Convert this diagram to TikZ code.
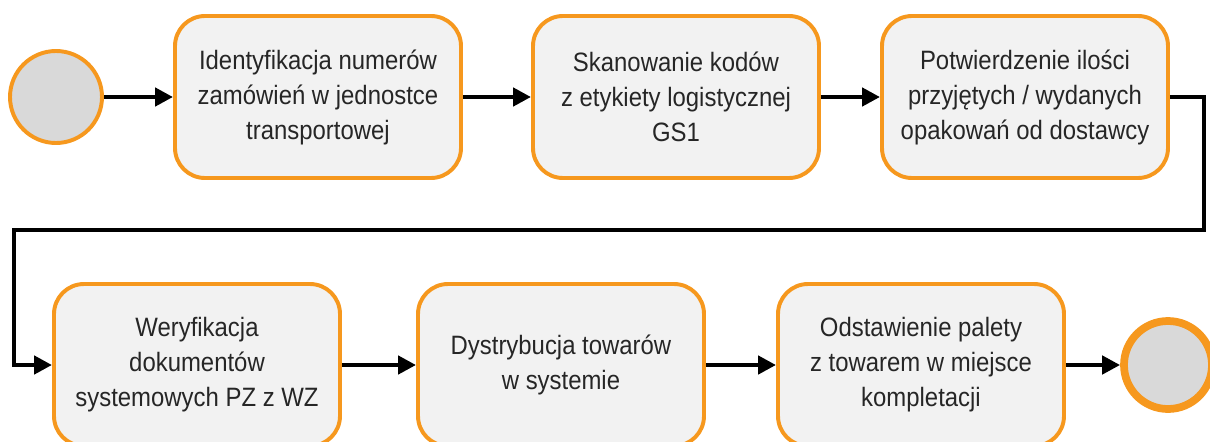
\documentclass[tikz,border=0pt]{standalone}
\usepackage{fontspec}
\setmainfont[FakeStretch=0.9]{Liberation Sans}
\usepackage{xcolor}
\usetikzlibrary{arrows.meta,shapes}

\definecolor{boxorange}{RGB}{246,152,30}
\definecolor{boxfill}{RGB}{242,242,242}
\definecolor{dotfill}{RGB}{217,217,217}

\begin{document}
\begin{tikzpicture}[>={Triangle[length=0.45cm,width=0.45cm]}]
\tikzset{
  task/.style={draw=boxorange,line width=2.8pt,fill=boxfill,rounded corners=0.75cm,
    minimum width=7.15cm,minimum height=4.05cm,align=center,
    font=\fontsize{18.9}{24.9}\selectfont,text=black!85},
  event/.style={circle,draw=boxorange,line width=2.8pt,fill=dotfill,minimum size=2.3cm},
  flow/.style={line width=3.4pt,->}
}
\useasboundingbox (0,0) rectangle (30.25,-11.025);
% top row
\node[event] (start) at (1.4,-2.425) {};
\node[task] (ident) at (7.95,-2.425) {Identyfikacja numerów\\zamówień w jednostce\\transportowej};
\node[task] (scan) at (16.9,-2.425) {Skanowanie kodów\\z etykiety logistycznej\\GS1};
\node[task] (confirm) at (25.625,-2.425) {Potwierdzenie ilości\\przyjętych / wydanych\\opakowań od dostawcy};
% bottom row
\node[task] (verify) at (4.925,-9.125) {Weryfikacja\\dokumentów\\systemowych PZ z WZ};
\node[task] (distrib) at (14.025,-9.125) {Dystrybucja towarów\\w systemie};
\node[task] (store) at (23.025,-9.125) {Odstawienie palety\\z towarem w miejsce\\kompletacji};
\node[event,line width=5.5pt,minimum size=2.2cm] (stop) at (29.2,-9.125) {};
\coordinate (turnR) at (30.1,-5.75);
\coordinate (turnL) at (0.35,-5.75);
% flow
\draw[flow] (start) -- (ident);
\draw[flow] (ident) -- (scan);
\draw[flow] (scan) -- (confirm);
\draw[flow] (confirm.east) -| (turnR) -- (turnL) |- (verify.west);
\draw[flow] (verify) -- (distrib);
\draw[flow] (distrib) -- (store);
\draw[flow] (store) -- (stop);
\end{tikzpicture}
\end{document}
